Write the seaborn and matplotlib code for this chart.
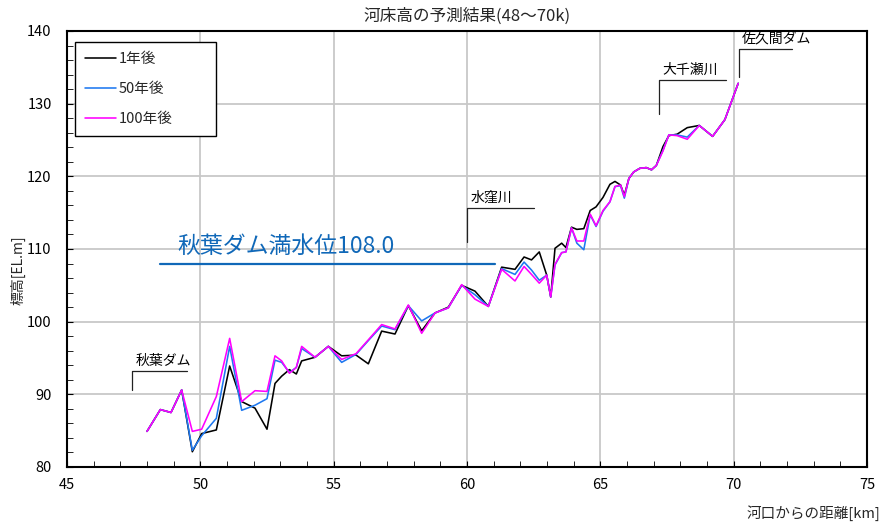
import numpy as np
import pandas as pd
import matplotlib
matplotlib.use("Agg")
import matplotlib.pyplot as plt
import seaborn as sns

# ---------------- data ----------------
km = [48.0, 48.5, 48.9, 49.3, 49.7, 50.05, 50.6, 51.1, 51.55, 52.05, 52.5, 52.8,
      53.05, 53.34, 53.6, 53.8, 54.3, 54.8, 55.3, 55.84, 56.3, 56.8, 57.3,
      57.8, 58.3, 58.8, 59.3, 59.8, 60.3, 60.8, 61.3, 61.8,
      62.14, 62.42, 62.71, 62.99, 63.14, 63.3, 63.55, 63.71, 63.92, 64.12, 64.38,
      64.62, 64.84, 65.1, 65.36, 65.55, 65.76, 65.9, 66.07, 66.25, 66.48, 66.72,
      66.92, 67.1, 67.35, 67.57, 67.88, 68.26, 68.71, 69.21, 69.67, 70.17]

elev_1yr = [84.9, 87.9, 87.5, 90.6, 82.1, 84.6, 85.1, 93.9, 89.0, 88.1, 85.2, 91.5,
            92.5, 93.4, 92.8, 94.6, 95.1, 96.6, 95.3, 95.4, 94.2, 98.7, 98.3,
            102.2, 98.75, 101.2, 102.0, 105.0, 104.2, 102.1, 107.5, 107.2,
            108.9, 108.5, 109.6, 106.4, 103.4, 110.1, 110.8, 110.2, 113.0, 112.7, 112.8,
            115.3, 115.8, 117.1, 118.9, 119.3, 118.8, 117.4, 119.7, 120.6, 121.1, 121.2,
            120.9, 121.5, 124.1, 125.6, 125.8, 126.7, 127.0, 125.5, 127.8, 132.8]

elev_50yr = [84.9, 87.9, 87.5, 90.6, 82.3, 84.3, 86.7, 96.6, 87.8, 88.5, 89.4, 94.7,
             94.4, 93.0, 93.7, 96.3, 95.1, 96.6, 94.4, 95.5, 97.4, 99.4, 98.9,
             102.2, 100.1, 101.2, 101.9, 105.0, 103.7, 102.1, 107.3, 106.5,
             108.2, 107.1, 105.7, 106.4, 103.4, 107.8, 109.5, 109.6, 112.9, 110.8, 109.9,
             114.7, 113.1, 115.2, 116.5, 118.6, 118.7, 117.0, 119.7, 120.6, 121.1, 121.2,
             120.9, 121.5, 123.6, 125.7, 125.7, 125.4, 127.0, 125.5, 127.8, 132.8]

elev_100yr = [84.9, 87.9, 87.5, 90.6, 84.9, 85.2, 89.7, 97.7, 89.0, 90.5, 90.4, 95.3,
              94.6, 92.9, 93.7, 96.6, 95.1, 96.6, 94.8, 95.6, 97.5, 99.6, 99.0,
              102.3, 98.4, 101.2, 101.9, 105.1, 103.1, 102.1, 107.2, 105.6,
              107.6, 106.5, 105.3, 106.4, 103.4, 107.9, 109.5, 109.6, 112.9, 111.1, 111.1,
              114.8, 113.2, 115.3, 116.5, 118.6, 118.8, 117.2, 119.7, 120.6, 121.1, 121.2,
              120.9, 121.5, 123.5, 125.7, 125.6, 125.1, 127.0, 125.5, 127.8, 132.8]

series_labels = ["1年後", "50年後", "100年後"]
series_colors = ["#000000", "#1E78F0", "#FF00FF"]

full_water_level = 108.0
fwl_range = [48.5, 61.05]
fwl_label = "秋葉ダム満水位108.0"

# annotation: label, bracket x, bracket y bottom, bracket y top, horizontal end x
ann_labels = ["秋葉ダム", "水窪川", "大千瀬川", "佐久間ダム"]
ann_x = [47.45, 60.0, 67.2, 70.2]
ann_ybot = [90.6, 111.0, 128.6, 133.7]
ann_ytop = [93.2, 115.7, 133.3, 137.5]
ann_xend = [49.5, 62.5, 69.7, 72.2]

xticks = [45, 50, 55, 60, 65, 70, 75]
yticks = [80, 90, 100, 110, 120, 130, 140]

# ---------------- plot ----------------
sns.set_theme(style="white")
plt.rcParams['font.family'] = ['Noto Sans CJK JP', 'DejaVu Sans']

fig = plt.figure(figsize=(8.86, 5.24), dpi=100)
ax = fig.add_axes([67/886, 57/524, 800/886, 436/524])

df = pd.DataFrame({
    "km": km * 3,
    "elev": elev_1yr + elev_50yr + elev_100yr,
    "series": sum([[s] * len(km) for s in series_labels], []),
})
sns.lineplot(data=df, x="km", y="elev", hue="series", hue_order=series_labels,
             palette=dict(zip(series_labels, series_colors)), linewidth=1.15,
             ax=ax, sort=False, estimator=None, legend=True)

# full water level line & label
blue_c = "#1068B8"
ax.plot(fwl_range, [full_water_level] * 2, color=blue_c, lw=1.6)
ax.text(49.15, 110.4, fwl_label, color=blue_c, fontsize=16.5, ha="left", va="center")

# annotations
for lab, x0, yb, yt, xe in zip(ann_labels, ann_x, ann_ybot, ann_ytop, ann_xend):
    ax.plot([x0, x0, xe], [yb, yt, yt], color="#222222", lw=0.9)
    ax.text(x0 + 0.12, yt + 1.4, lab, fontsize=10, ha="left", va="center", color="#000000")

ax.set_xlim(45, 75)
ax.set_ylim(80, 140)
ax.set_xticks(xticks)
ax.set_yticks(yticks)
ax.set_xticks(np.arange(45, 76, 1), minor=True)
ax.set_yticks(np.arange(80, 141, 2), minor=True)
ax.grid(True, which="major", color="#C8C8C8", lw=1.3)
ax.set_axisbelow(True)
ax.tick_params(which="both", direction="in", colors="#000000", labelsize=10.5)
ax.tick_params(which="major", length=4, width=0.8, bottom=True, left=True)
ax.tick_params(which="minor", length=4, width=0.6, bottom=True, left=True)
ax.tick_params(axis="y", pad=11)
ax.tick_params(axis="x", pad=8)
for sp in ax.spines.values():
    sp.set_color("#000000")
    sp.set_linewidth(1.5)
    sp.set_visible(True)

ax.set_title("河床高の予測結果(48～70k)", fontsize=12, pad=7)
ax.set_xlabel("河口からの距離[km]", fontsize=10.5, ha="right", va="center")
ax.xaxis.set_label_coords(1.016, -0.105)
ax.set_ylabel("標高[EL.m]", fontsize=10, va="center")
ax.yaxis.set_label_coords(-0.061, 0.452)

leg = ax.legend(loc="upper left", bbox_to_anchor=(0.01, 0.0, 0.176, 0.975),
                mode="expand", borderaxespad=0,
                fontsize=10.5, frameon=True, fancybox=False, framealpha=1,
                edgecolor="#000000", handlelength=2.1, handletextpad=0.2,
                labelspacing=1.1, borderpad=0.7)
leg.get_frame().set_linewidth(1.0)
leg.set_title(None)

fig.savefig("out.png", dpi=100)
